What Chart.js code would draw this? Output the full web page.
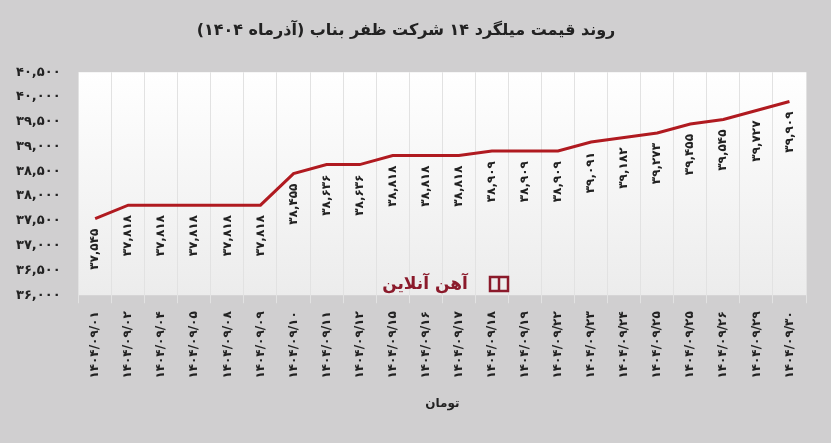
<!DOCTYPE html><html><head><meta charset="utf-8">
<script src="https://cdn.jsdelivr.net/npm/chart.js"></script>
<style>body{margin:0;background:#d0cfd0}#w{width:831px;height:443px;position:relative}</style></head><body><div id="w"><canvas id="c"></canvas></div>
<script>
const categories=["1404/09/01","1404/09/02","1404/09/04","1404/09/05","1404/09/08","1404/09/09","1404/09/10","1404/09/11","1404/09/12","1404/09/15","1404/09/16","1404/09/17","1404/09/18","1404/09/19","1404/09/22","1404/09/23","1404/09/24","1404/09/25","1404/09/25","1404/09/26","1404/09/29","1404/09/30"];
const prices=[37545,37818,37818,37818,37818,37818,38455,38636,38636,38818,38818,38818,38909,38909,38909,39091,39182,39273,39455,39545,39727,39909];
const yTicks=[36000,36500,37000,37500,38000,38500,39000,39500,40000,40500];
const fa=s=>String(s).replace(/\d/g,d=>'۰۱۲۳۴۵۶۷۸۹'[d]);
const num=v=>fa(v.toLocaleString('en-US'));
const F='"DejaVu Sans", sans-serif';
const bgPlug={id:'bg',beforeDraw(c){const a=c.chartArea,x=c.ctx;const g=x.createLinearGradient(0,a.top,0,a.bottom);g.addColorStop(0,'#ffffff');g.addColorStop(1,'#ececec');x.save();x.fillStyle=g;x.fillRect(a.left,a.top,a.right-a.left,a.bottom-a.top);x.restore();}};
const lblPlug={id:'lbl',afterDatasetsDraw(c){const x=c.ctx,m=c.getDatasetMeta(0);x.save();x.font='bold 12px '+F;x.fillStyle='#222';x.textAlign='right';x.textBaseline='middle';
m.data.forEach((p,i)=>{x.save();x.translate(p.x,p.y+10);x.rotate(-Math.PI/2);x.fillText(num(prices[i]),0,0);x.restore();});
x.font='bold 17px '+F;x.fillStyle='#8b1a2b';x.textAlign='center';x.fillText('آهن آنلاین',425,285);
x.strokeStyle='#8b1a2b';x.lineWidth=2.5;x.strokeRect(490,277,18,14);x.beginPath();x.moveTo(499,277);x.lineTo(499,291);x.stroke();
x.restore();}};
new Chart(document.getElementById('c'),{type:'line',data:{labels:categories,datasets:[{data:prices,borderColor:'#b01a20',borderWidth:3,pointRadius:0,tension:0}]},
options:{responsive:true,maintainAspectRatio:false,animation:false,layout:{padding:{left:6,right:25,top:5,bottom:28}},
plugins:{legend:{display:false},tooltip:{enabled:false},title:{display:true,text:'روند قیمت میلگرد ۱۴ شرکت ظفر بناب (آذرماه ۱۴۰۴)',font:{family:F,size:16,weight:'bold'},color:'#222',padding:{top:16,bottom:32}}},
scales:{y:{min:36000,max:40500,afterBuildTicks(a){a.ticks=yTicks.map(v=>({value:v}));},grid:{display:false},border:{display:false},ticks:{font:{family:F,size:13,weight:'bold'},color:'#222',padding:10,callback:v=>num(v)}},
x:{offset:true,grid:{color:'#e2e2e2',offset:true},border:{display:false},ticks:{font:{family:F,size:12,weight:'bold'},color:'#222',maxRotation:90,minRotation:90,padding:8,callback:(v,i)=>fa(categories[i])},
title:{display:true,text:'تومان',font:{family:F,size:12,weight:'bold'},color:'#222',padding:{top:10}}}}},plugins:[bgPlug,lblPlug]});
</script></body></html>
